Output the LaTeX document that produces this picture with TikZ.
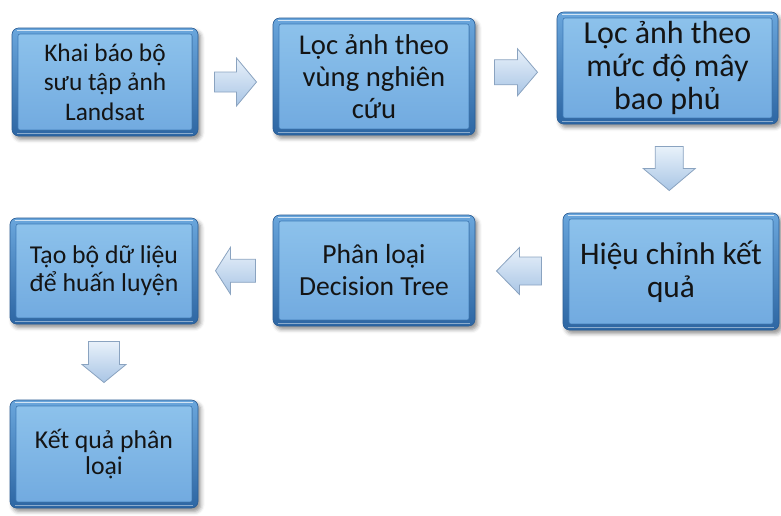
\documentclass[tikz,border=0pt]{standalone}
\usepackage{fontspec}
\setmainfont{Carlito}
\usetikzlibrary{calc,shadows.blur}
\definecolor{innertop}{HTML}{8EC3EC}
\definecolor{innerbot}{HTML}{70A9DF}
\definecolor{bordertop}{HTML}{6AA6DC}
\definecolor{borderbot}{HTML}{2D66A3}
\definecolor{edgeblue}{HTML}{2B5E96}
\definecolor{innerline}{HTML}{3F7CBA}
\definecolor{arrtop}{HTML}{E8F1FA}
\definecolor{arrbot}{HTML}{A9C5E5}
\definecolor{arredge}{HTML}{8AA3C0}
\definecolor{txt}{HTML}{141414}
\tikzset{
  bbox/.style={rounded corners=5pt, top color=bordertop, bottom color=borderbot,
    draw=edgeblue, line width=0.5pt, align=center, text=txt, inner sep=2pt,
    blur shadow={shadow xshift=2pt, shadow yshift=-2.5pt, shadow blur radius=3pt, shadow opacity=45},
    path picture={
      \fill[top color=innertop, bottom color=innerbot, draw=innerline, line width=0.4pt, rounded corners=1.5pt]
        ([shift={(4.5pt,-4.5pt)}]path picture bounding box.north west) rectangle
        ([shift={(-4.5pt,4.5pt)}]path picture bounding box.south east);
      \draw[white, opacity=.7, line width=0.9pt]
        ([shift={(4pt,-1.6pt)}]path picture bounding box.north west) --
        ([shift={(-4pt,-1.6pt)}]path picture bounding box.north east);
      \draw[white, opacity=.45, line width=0.9pt]
        ([shift={(4pt,1.8pt)}]path picture bounding box.south west) --
        ([shift={(-4pt,1.8pt)}]path picture bounding box.south east);
    }},
  barrow/.style={top color=arrtop, bottom color=arrbot, draw=arredge, line width=0.6pt, line join=miter}
}
% #1 centre, #2 angle, #3 length, #4 head length, #5 head width, #6 shaft width
\newcommand\blockarr[6]{%
  \begin{scope}[shift={(#1)}, rotate=#2]
    \draw[barrow] (-#3/2,-#6/2) -- (#3/2-#4,-#6/2) -- (#3/2-#4,-#5/2) -- (#3/2,0)
      -- (#3/2-#4,#5/2) -- (#3/2-#4,#6/2) -- (-#3/2,#6/2) -- cycle;
  \end{scope}}
\begin{document}
\begin{tikzpicture}[x=0.75pt,y=-0.75pt]
\useasboundingbox (0,0) rectangle (781,515);
\node[bbox, minimum width=186*0.75pt, minimum height=108*0.75pt, font=\fontsize{19}{22}\selectfont]
  (b1) at (105,82) {Khai báo bộ\\sưu tập ảnh\\Landsat};
\node[bbox, minimum width=202*0.75pt, minimum height=117*0.75pt, font=\fontsize{21.5}{24}\selectfont]
  (b2) at (374,76.5) {Lọc ảnh theo\\vùng nghiên\\cứu};
\node[bbox, minimum width=221*0.75pt, minimum height=112*0.75pt, font=\fontsize{24}{25}\selectfont]
  (b3) at (667.5,68) {Lọc ảnh theo\\mức độ mây\\bao phủ};
\node[bbox, minimum width=216*0.75pt, minimum height=117*0.75pt, font=\fontsize{23.5}{25}\selectfont]
  (b4) at (671,271.5) {Hiệu chỉnh kết\\quả};
\node[bbox, minimum width=202*0.75pt, minimum height=111*0.75pt, font=\fontsize{20.7}{24}\selectfont]
  (b5) at (374,270.5) {Phân loại\\Decision Tree};
\node[bbox, minimum width=188*0.75pt, minimum height=106*0.75pt, font=\fontsize{19.3}{21}\selectfont]
  (b6) at (104,271) {Tạo bộ dữ liệu\\để huấn luyện};
\node[bbox, minimum width=188*0.75pt, minimum height=108*0.75pt, font=\fontsize{19.3}{20}\selectfont]
  (b7) at (104,454) {Kết quả phân\\loại};
\coordinate (a1) at ($(b1.east)!0.5!(b2.west|-b1.east)$);
\coordinate (a2) at ($(b2.east)!0.5!(b3.west)$);
\coordinate (a3) at ($(b3.south)!0.5!(b4.north)$);
\coordinate (a4) at ($(b5.east)!0.5!(b4.west)$);
\coordinate (a5) at ($(b6.east)!0.5!(b5.west)$);
\coordinate (a6) at ($(b6.south)!0.5!(b7.north)$);
\blockarr{a1}{0}{42}{20}{48}{20}
\blockarr{a2}{0}{43}{20}{47}{25}
\blockarr{a3}{-90}{44}{22}{52}{28}
\blockarr{a4}{180}{45}{23}{47}{28}
\blockarr{a5}{180}{40}{15}{47}{23}
\blockarr{a6}{-90}{41}{18}{44}{31}
\end{tikzpicture}
\end{document}
